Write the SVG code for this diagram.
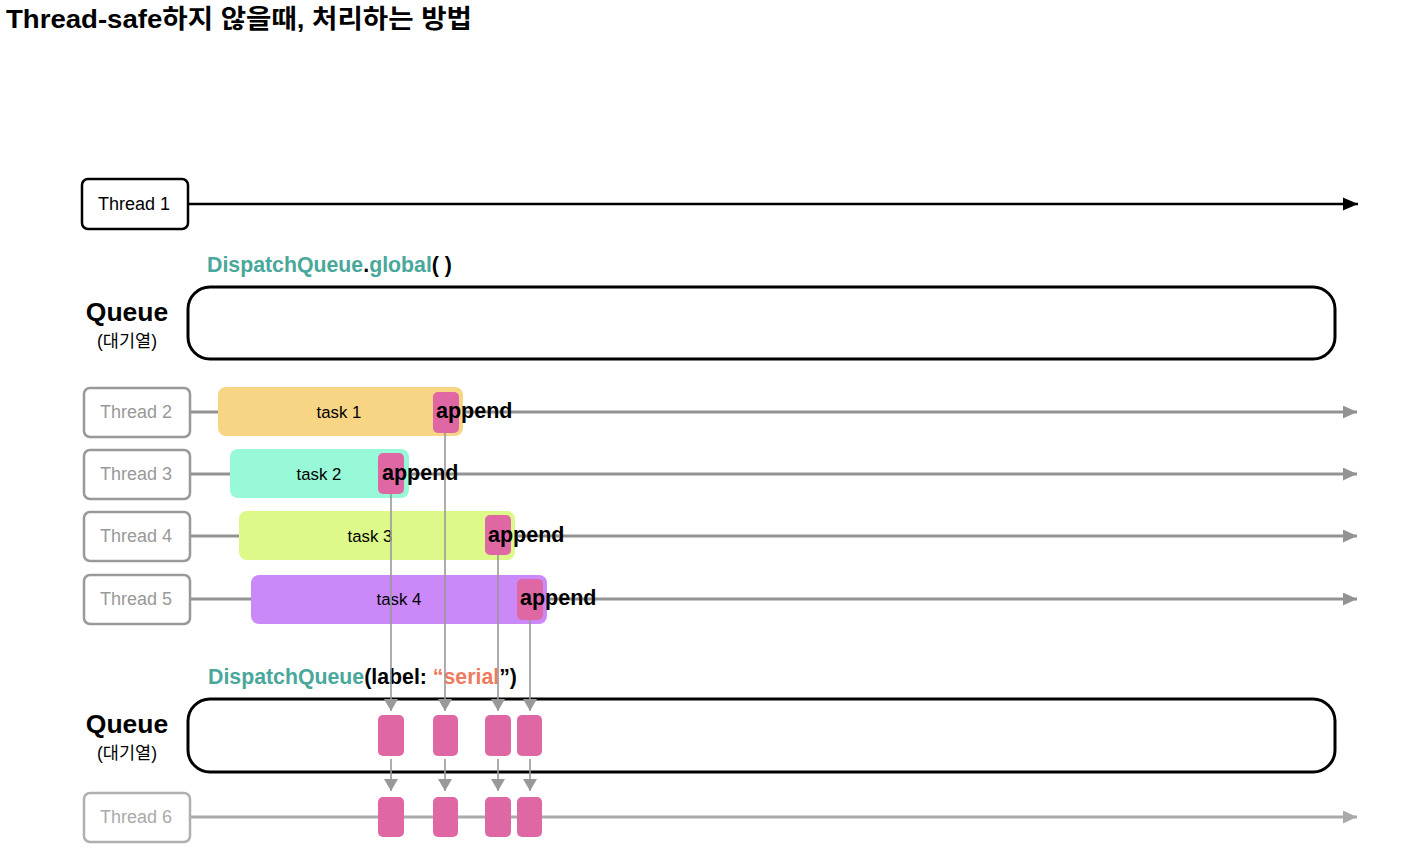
<svg xmlns="http://www.w3.org/2000/svg" width="1410" height="856" viewBox="0 0 1410 856">
<style>
text{font-family:"Liberation Sans","Noto Sans CJK KR",sans-serif}
.title{font-size:26px;font-weight:bold;fill:#000}
.qlabel{font-size:26.5px;font-weight:bold;text-anchor:middle}
.qsub{font-size:17.5px;text-anchor:middle}
.dq{font-size:21.3px;font-weight:bold}
.teal{fill:#4aa79b}
.coral{fill:#ef7a5e}
.tbox{fill:#fff;stroke:#999;stroke-width:2.5}
.tbox6{fill:#fff;stroke:#b0b0b0;stroke-width:2.5}
.tlab{font-size:18px;fill:#999;text-anchor:middle}
.tlab6{font-size:18px;fill:#aaa;text-anchor:middle}
.qbox{fill:#fff;stroke:#000;stroke-width:3}
.task{font-size:16.8px;text-anchor:middle;fill:#000}
.pink{fill:#de67a4}
.append{font-size:21.5px;font-weight:bold;fill:#000}
.gline{stroke:#939393;stroke-width:3;fill:none}
.gline6{stroke:#aaa;stroke-width:3;fill:none}
.vline{stroke:#999;stroke-width:1.6;fill:none}
</style>
<defs>
<marker id="ab" markerUnits="userSpaceOnUse" markerWidth="15" markerHeight="14" refX="15" refY="7" orient="auto"><path d="M0,0.5 L15,7 L0,13.5 Z" fill="#000"/></marker>
<marker id="ag" markerUnits="userSpaceOnUse" markerWidth="14" markerHeight="13" refX="14" refY="6.5" orient="auto"><path d="M0,0 L14,6.5 L0,13 Z" fill="#939393"/></marker>
<marker id="ag6" markerUnits="userSpaceOnUse" markerWidth="14" markerHeight="13" refX="14" refY="6.5" orient="auto"><path d="M0,0 L14,6.5 L0,13 Z" fill="#aaa"/></marker>
<marker id="av" markerUnits="userSpaceOnUse" markerWidth="12" markerHeight="14" refX="12" refY="7" orient="auto"><path d="M0,0 L12,7 L0,14 Z" fill="#999"/></marker>
</defs>
<rect width="1410" height="856" fill="#fff"/>
<text class="title" x="6" y="28" textLength="466" lengthAdjust="spacingAndGlyphs">Thread-safe하지 않을때, 처리하는 방법</text>

<g id="timelines">
<line x1="189" y1="204" x2="1358" y2="204" stroke="#000" stroke-width="2.5" marker-end="url(#ab)"/>
<line class="gline" x1="190" y1="412" x2="1357" y2="412" marker-end="url(#ag)"/>
<line class="gline" x1="190" y1="474" x2="1357" y2="474" marker-end="url(#ag)"/>
<line class="gline" x1="190" y1="536" x2="1357" y2="536" marker-end="url(#ag)"/>
<line class="gline" x1="190" y1="599" x2="1357" y2="599" marker-end="url(#ag)"/>
<line class="gline6" x1="190" y1="817" x2="1357" y2="817" marker-end="url(#ag6)"/>
</g>

<g id="thread1">
<rect x="82" y="179" width="106" height="50" rx="6" fill="#fff" stroke="#000" stroke-width="2.5"/>
<text x="134" y="210" font-size="18" text-anchor="middle">Thread 1</text>
</g>

<g id="queue-global">
<text class="dq" x="207" y="272"><tspan class="teal">DispatchQueue</tspan>.<tspan class="teal">global</tspan>( )</text>
<rect class="qbox" x="188" y="287" width="1147" height="72" rx="22"/>
<text class="qlabel" x="127" y="321">Queue</text>
<text class="qsub" x="127" y="347">(대기열)</text>
</g>

<g id="thread2">
<rect class="tbox" x="84" y="388" width="106" height="49" rx="6"/>
<text class="tlab" x="136" y="418">Thread 2</text>
</g>
<g id="thread3">
<rect class="tbox" x="84" y="450" width="106" height="49" rx="6"/>
<text class="tlab" x="136" y="480">Thread 3</text>
</g>
<g id="thread4">
<rect class="tbox" x="84" y="512" width="106" height="49" rx="6"/>
<text class="tlab" x="136" y="542">Thread 4</text>
</g>
<g id="thread5">
<rect class="tbox" x="84" y="575" width="106" height="49" rx="6"/>
<text class="tlab" x="136" y="605">Thread 5</text>
</g>

<g id="task1">
<rect x="218" y="387" width="245" height="49" rx="8" fill="#f8d585"/>
<text class="task" x="339" y="418">task 1</text>
<rect class="pink" x="433" y="392" width="26" height="41" rx="5"/>
<text class="append" x="436" y="418">append</text>
</g>
<g id="task2">
<rect x="230" y="449" width="179" height="49" rx="8" fill="#98f9d8"/>
<text class="task" x="319" y="480">task 2</text>
<rect class="pink" x="378" y="453" width="26" height="41" rx="5"/>
<text class="append" x="382" y="480">append</text>
</g>
<g id="task3">
<rect x="239" y="511" width="276" height="49" rx="8" fill="#dcf98a"/>
<text class="task" x="370" y="542">task 3</text>
<rect class="pink" x="485" y="515" width="26" height="40" rx="5"/>
<text class="append" x="488" y="542">append</text>
</g>
<g id="task4">
<rect x="251" y="575" width="296" height="49" rx="8" fill="#cb88f8"/>
<text class="task" x="399" y="605">task 4</text>
<rect class="pink" x="517" y="579" width="26" height="41" rx="5"/>
<text class="append" x="520" y="605">append</text>
</g>

<g id="queue-serial">
<text class="dq" x="208" y="684"><tspan class="teal">DispatchQueue</tspan>(label: <tspan class="coral">“serial</tspan>”)</text>
<rect class="qbox" x="188" y="699" width="1147" height="73" rx="22"/>
<text class="qlabel" x="127" y="733">Queue</text>
<text class="qsub" x="127" y="759">(대기열)</text>
<rect class="pink" x="378" y="715" width="26" height="41" rx="5"/>
<rect class="pink" x="433" y="715" width="25" height="41" rx="5"/>
<rect class="pink" x="485" y="715" width="26" height="41" rx="5"/>
<rect class="pink" x="517" y="715" width="25" height="41" rx="5"/>
</g>

<g id="thread6">
<rect class="tbox6" x="84" y="793" width="106" height="49" rx="6"/>
<text class="tlab6" x="136" y="823">Thread 6</text>
<rect class="pink" x="378" y="797" width="26" height="40" rx="5"/>
<rect class="pink" x="433" y="797" width="25" height="40" rx="5"/>
<rect class="pink" x="485" y="797" width="26" height="40" rx="5"/>
<rect class="pink" x="517" y="797" width="25" height="40" rx="5"/>
</g>

<g id="connectors">
<line class="vline" x1="391" y1="494" x2="391" y2="711" marker-end="url(#av)"/>
<line class="vline" x1="445" y1="433" x2="445" y2="711" marker-end="url(#av)"/>
<line class="vline" x1="498" y1="555" x2="498" y2="711" marker-end="url(#av)"/>
<line class="vline" x1="530" y1="620" x2="530" y2="711" marker-end="url(#av)"/>
<line class="vline" x1="391" y1="759" x2="391" y2="791" marker-end="url(#av)"/>
<line class="vline" x1="445" y1="759" x2="445" y2="791" marker-end="url(#av)"/>
<line class="vline" x1="498" y1="759" x2="498" y2="791" marker-end="url(#av)"/>
<line class="vline" x1="530" y1="759" x2="530" y2="791" marker-end="url(#av)"/>
</g>
</svg>
